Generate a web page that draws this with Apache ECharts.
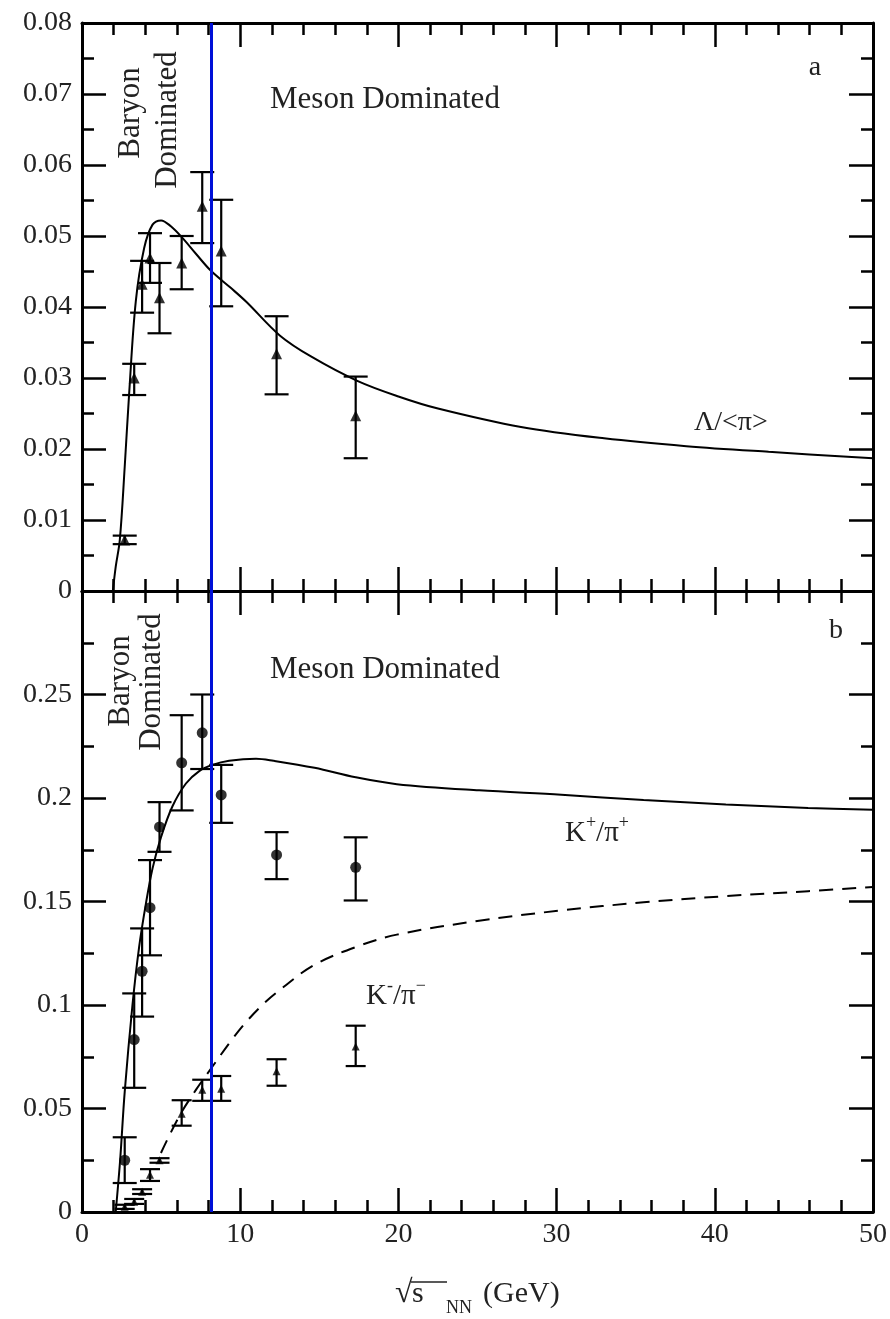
<!DOCTYPE html>
<html><head><meta charset="utf-8">
<script src="https://cdn.jsdelivr.net/npm/echarts@6/dist/echarts.min.js"></script>
<style>html,body{margin:0;padding:0;background:#fff}#c{width:890px;height:1319px}</style>
</head><body><div id="c"></div>
<script>
// ---------- data ----------
const energies = [2.7, 3.3, 3.8, 4.3, 4.9, 6.3, 7.6, 8.8, 12.3, 17.3];
const lambdaRatio = [0.0072, 0.0300, 0.0432, 0.0469, 0.0413, 0.0462, 0.0542, 0.0479, 0.0334, 0.0247];
const lambdaLo = [0.0066, 0.0276, 0.0392, 0.0434, 0.0363, 0.0425, 0.0490, 0.0401, 0.0277, 0.0187];
const lambdaHi = [0.0078, 0.0320, 0.0465, 0.0504, 0.0462, 0.0500, 0.0590, 0.0551, 0.0387, 0.0302];

const kPlusRatio = [0.025, 0.0833, 0.1163, 0.147, 0.186, 0.217, 0.2315, 0.2015, 0.1725, 0.1665];
const kPlusLo = [0.014, 0.060, 0.0944, 0.124, 0.174, 0.194, 0.214, 0.188, 0.1608, 0.1505];
const kPlusHi = [0.0361, 0.1056, 0.137, 0.170, 0.198, 0.240, 0.250, 0.216, 0.1835, 0.181];

const kMinusRatio = [0.0025, 0.005, 0.0098, 0.018, 0.025, 0.0475, 0.059, 0.0595, 0.068, 0.080];
const kMinusLo = [0.0015, 0.0039, 0.0087, 0.015, 0.0238, 0.0417, 0.0537, 0.0537, 0.061, 0.0705];
const kMinusHi = [0.0035, 0.0063, 0.011, 0.0207, 0.026, 0.054, 0.0639, 0.0657, 0.0738, 0.090];

const lambdaCurveX = [1.95, 2.13, 2.39, 2.7, 2.98, 3.4, 3.93, 4.46, 5.0, 5.6, 6.36, 7.2, 8.15, 9.4, 10.4, 12.5, 14.5, 17.4, 20, 22.5, 27.75, 33, 38.2, 43.4, 50];
const lambdaCurveY = [0, 0.0034, 0.0072, 0.0175, 0.0278, 0.0408, 0.0483, 0.0516, 0.0522, 0.0514, 0.0497, 0.0475, 0.0451, 0.0427, 0.0407, 0.0360, 0.0330, 0.0296, 0.0274, 0.0257, 0.0231, 0.0215, 0.0204, 0.0196, 0.0187];

const kPlusCurveX = [2.13, 2.41, 2.7, 3.19, 3.61, 4.04, 4.46, 4.99, 5.72, 6.57, 7.41, 8.24, 9.3, 11, 12.1, 14.7, 17.3, 19.9, 25.1, 30.3, 35.5, 40.7, 45.9, 50];
const kPlusCurveY = [0, 0.025, 0.058, 0.100, 0.128, 0.149, 0.166, 0.181, 0.196, 0.207, 0.213, 0.216, 0.218, 0.219, 0.218, 0.2146, 0.2100, 0.2067, 0.2037, 0.2016, 0.1990, 0.1969, 0.1952, 0.1943];

const kMinusCurveX = [4.99, 6.15, 7.2, 8.26, 9.4, 10.4, 11.4, 12.3, 14.6, 17.3, 19.9, 25.1, 30.3, 35.5, 40.7, 45.9, 50];
const kMinusCurveY = [0.0285, 0.0463, 0.059, 0.0704, 0.0825, 0.092, 0.100, 0.106, 0.119, 0.128, 0.134, 0.1407, 0.1457, 0.1496, 0.1526, 0.155, 0.157];

const transitionEnergy = [8.2];

const xTicks = { min: 0, max: 50, interval: 10 };
const yTopTicks = { min: 0, max: 0.08, interval: 0.01 };
const yBottomTicks = { min: 0, max: 0.3, interval: 0.05 };

// ---------- chart ----------
const FF = "'Liberation Serif','Times New Roman',serif";
const zip = (a, b) => a.map((v, i) => [v, b[i]]);

function xAx(grid, pos, showLabels) {
  return {
    type: 'value', gridIndex: grid, position: pos, min: xTicks.min, max: xTicks.max, interval: xTicks.interval,
    axisLine: { show: true, onZero: false, lineStyle: { color: '#000', width: 3 } },
    axisTick: { show: true, inside: true, length: 24, lineStyle: { color: '#000', width: 2.5 } },
    minorTick: { show: true, splitNumber: 5, length: 12, lineStyle: { color: '#000', width: 2.5 } },
    splitLine: { show: false }, minorSplitLine: { show: false },
    axisLabel: { show: showLabels, margin: 9, fontFamily: FF, fontSize: 28, color: '#222' }
  };
}
function yAx(grid, pos, ticks, showLabels, fmt) {
  return {
    type: 'value', gridIndex: grid, position: pos, min: ticks.min, max: ticks.max, interval: ticks.interval,
    axisLine: { show: true, onZero: false, lineStyle: { color: '#000', width: 3 } },
    axisTick: { show: true, inside: true, length: 24, lineStyle: { color: '#000', width: 2.5 } },
    minorTick: { show: true, splitNumber: 2, length: 12, lineStyle: { color: '#000', width: 2.5 } },
    splitLine: { show: false }, minorSplitLine: { show: false },
    axisLabel: { show: showLabels, margin: 10, fontFamily: FF, fontSize: 28, color: '#222', formatter: fmt }
  };
}
const fmtTop = v => (Math.abs(v) < 1e-9 ? '0' : (+v.toFixed(2)).toString());
const fmtBottom = v => (Math.abs(v) < 1e-9 ? '0' : (v > 0.29 ? '' : (+v.toFixed(2)).toString()));

function errSeries(xi, yi, lo, hi, capHalf) {
  return {
    type: 'custom', xAxisIndex: xi, yAxisIndex: yi, silent: true, z: 3,
    data: energies.map((x, i) => [x, lo[i], hi[i]]),
    encode: { x: 0, y: [1, 2] },
    renderItem(params, api) {
      const x = api.value(0);
      const p1 = api.coord([x, api.value(1)]);
      const p2 = api.coord([x, api.value(2)]);
      const st = { stroke: '#000', lineWidth: 2.2 };
      return {
        type: 'group', children: [
          { type: 'line', shape: { x1: p1[0], y1: p1[1], x2: p2[0], y2: p2[1] }, style: st },
          { type: 'line', shape: { x1: p1[0] - capHalf, y1: p1[1], x2: p1[0] + capHalf, y2: p1[1] }, style: st },
          { type: 'line', shape: { x1: p2[0] - capHalf, y1: p2[1], x2: p2[0] + capHalf, y2: p2[1] }, style: st }
        ]
      };
    }
  };
}
const blueLine = {
  silent: true, symbol: 'none', label: { show: false },
  lineStyle: { color: '#0010d8', width: 3, type: 'solid' },
  data: transitionEnergy.map(v => ({ xAxis: v }))
};
const curve = (xi, yi, xs, ys, extra) => Object.assign({
  type: 'line', xAxisIndex: xi, yAxisIndex: yi, data: zip(xs, ys), smooth: 0.35,
  showSymbol: false, lineStyle: { color: '#000', width: 2 }, silent: true, z: 2
}, extra || {});
const txt = (x, y, text, size, align, rot) => ({
  type: 'text', x, y, rotation: rot || 0,
  style: { text, font: size + 'px ' + FF, fill: '#222', textAlign: align || 'left', textVerticalAlign: 'middle' }
});

const option = {
  animation: false,
  backgroundColor: '#fff',
  grid: [
    { left: 82, top: 23, width: 791, height: 568 },
    { left: 82, top: 591, width: 791, height: 621 }
  ],
  xAxis: [xAx(0, 'bottom', false), xAx(0, 'top', false), xAx(1, 'bottom', true), xAx(1, 'top', false)],
  yAxis: [yAx(0, 'left', yTopTicks, true, fmtTop), yAx(0, 'right', yTopTicks, false),
          yAx(1, 'left', yBottomTicks, true, fmtBottom), yAx(1, 'right', yBottomTicks, false)],
  series: [
    curve(0, 0, lambdaCurveX, lambdaCurveY, { markLine: blueLine }),
    errSeries(0, 0, lambdaLo, lambdaHi, 12),
    { type: 'scatter', xAxisIndex: 0, yAxisIndex: 0, data: zip(energies, lambdaRatio), symbol: 'triangle', symbolSize: 11,
      itemStyle: { color: '#000' }, silent: true, z: 4 },

    curve(2, 2, kPlusCurveX, kPlusCurveY, { markLine: blueLine }),
    curve(2, 2, kMinusCurveX, kMinusCurveY, { lineStyle: { color: '#000', width: 2, type: [14, 9] } }),
    errSeries(2, 2, kPlusLo, kPlusHi, 12),
    { type: 'scatter', xAxisIndex: 2, yAxisIndex: 2, data: zip(energies, kPlusRatio), symbol: 'circle', symbolSize: 11,
      itemStyle: { color: '#000' }, silent: true, z: 4 },
    errSeries(2, 2, kMinusLo, kMinusHi, 10),
    { type: 'scatter', xAxisIndex: 2, yAxisIndex: 2, data: zip(energies, kMinusRatio), symbol: 'triangle', symbolSize: 8,
      itemStyle: { color: '#000' }, silent: true, z: 4 }
  ],
  graphic: [
    txt(270, 100, 'Meson Dominated', 31),
    txt(270, 670, 'Meson Dominated', 31),
    txt(131, 113, 'Baryon', 31, 'center', Math.PI / 2),
    txt(168, 120, 'Dominated', 31, 'center', Math.PI / 2),
    txt(121, 681, 'Baryon', 31, 'center', Math.PI / 2),
    txt(152, 682, 'Dominated', 31, 'center', Math.PI / 2),
    txt(815, 68, 'a', 28, 'center'),
    txt(836, 631, 'b', 28, 'center'),
    txt(694, 423, 'Λ/<π>', 28),
    { type: 'text', x: 565, y: 831, style: {
        text: '{b|K}{s|+}{b|/π}{s|+}', textAlign: 'left', textVerticalAlign: 'middle', fill: '#222',
        rich: { b: { fontFamily: FF, fontSize: 29, lineHeight: 34, verticalAlign: 'bottom', fill: '#222' },
                s: { fontFamily: FF, fontSize: 18, lineHeight: 34, verticalAlign: 'top', fill: '#222' } } } },
    { type: 'text', x: 366, y: 994, style: {
        text: '{b|K}{s|-}{b|/π}{s|−}', textAlign: 'left', textVerticalAlign: 'middle', fill: '#222',
        rich: { b: { fontFamily: FF, fontSize: 29, lineHeight: 34, verticalAlign: 'bottom', fill: '#222' },
                s: { fontFamily: FF, fontSize: 18, lineHeight: 34, verticalAlign: 'top', fill: '#222' } } } },
    txt(395, 1294, '√', 32),
    txt(412, 1294, 's', 30),
    txt(446, 1308, 'NN', 18),
    txt(483, 1294, '(GeV)', 30),
    { type: 'line', shape: { x1: 411, y1: 1282, x2: 447, y2: 1282 }, style: { stroke: '#222', lineWidth: 1.5 } }
  ]
};
const chart = echarts.init(document.getElementById('c'));
chart.setOption(option);
</script></body></html>
